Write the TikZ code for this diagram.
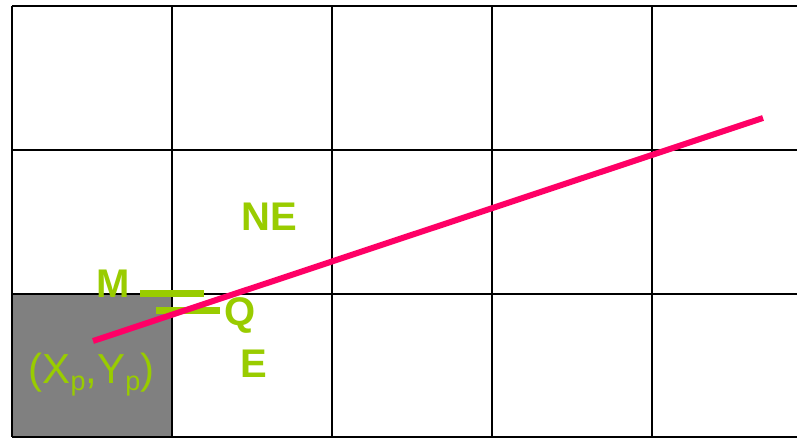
\documentclass[tikz,border=0pt]{standalone}
\usepackage{fontspec}
\setmainfont{Liberation Sans}
\definecolor{lime}{HTML}{99CC00}
\definecolor{hotpink}{HTML}{FF0066}
\definecolor{cellgray}{HTML}{808080}
\begin{document}
\begin{tikzpicture}[x=1pt,y=-1pt,
  gridline/.style={draw=black,line width=2.7pt},
  lbl/.style={text=lime,inner sep=0pt,anchor=base,font=\fontsize{40}{48}\selectfont\bfseries},
  coord/.style={text=lime,inner sep=0pt,anchor=base,font=\fontsize{42}{50}\selectfont},
  bar/.style={draw=lime,line width=7pt},
  ray/.style={draw=hotpink,line width=6pt}]
\useasboundingbox (0,0) rectangle (797,438);
\fill[white] (0,0) rectangle (797,438);
% shaded pixel
\fill[cellgray] (12,294) rectangle (172,437);
% grid
\foreach \x in {12,172,332,492,652} \draw[gridline] (\x,6) -- (\x,437);
\foreach \y in {6,150,294,437} \draw[gridline] (12,\y) -- (797,\y);
% midpoint bars
\coordinate (m1) at (140,293);
\coordinate (m2) at (204,293);
\coordinate (q1) at (156,310);
\coordinate (q2) at (220,310);
\draw[bar] (m1) -- (m2);
\draw[bar] (q1) -- (q2);
% line
\coordinate (start) at (93,341);
\coordinate (end) at (763,118);
\draw[ray] (start) -- (end);
% labels
\node[lbl] (M) at (113,297) {M};
\node[lbl] (NE) at (269.5,231) {NE};
\node[lbl] (Q) at (240,325) {Q};
\node[lbl] (E) at (254,377) {E};
\node[coord] (P) at (91.5,383) {(X\raisebox{-7pt}{\fontsize{27}{27}\selectfont p},Y\raisebox{-7pt}{\fontsize{27}{27}\selectfont p})};
\end{tikzpicture}
\end{document}
